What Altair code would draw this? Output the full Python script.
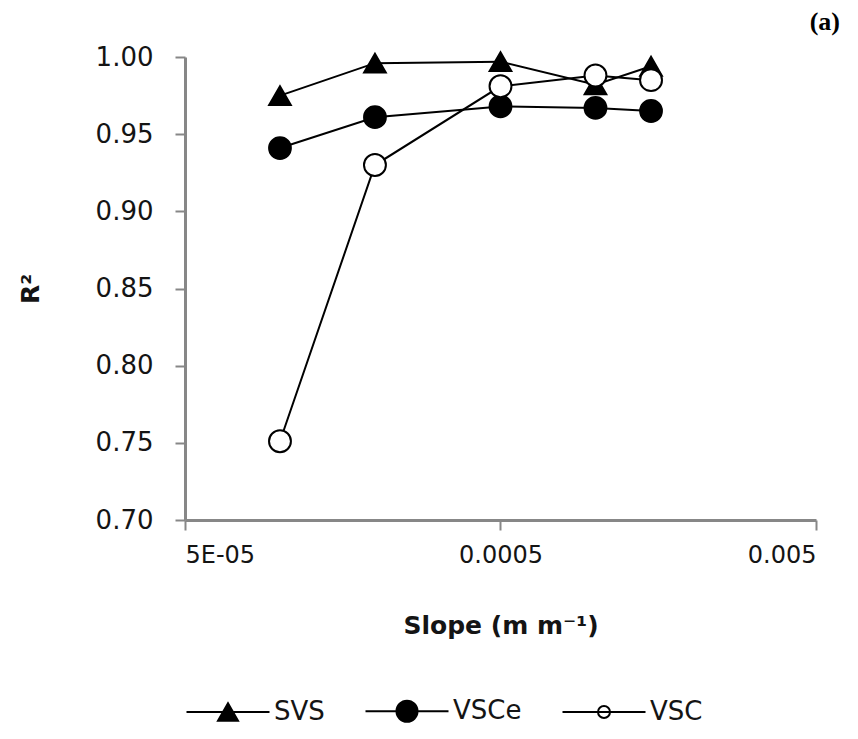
import altair as alt
import pandas as pd

# ---- data ----
slopes = [0.0001, 0.0002, 0.0005, 0.001, 0.0015]
svs = [0.975, 0.996, 0.997, 0.982, 0.994]
vsce = [0.941, 0.961, 0.968, 0.967, 0.965]
vsc = [0.751, 0.930, 0.981, 0.988, 0.985]

series_names = ["SVS", "VSCe", "VSC"]
x_ticks = [0.00005, 0.0005, 0.005]
x_tick_labels = ["5E-05", "0.0005", "0.005"]
y_ticks = [0.70, 0.75, 0.80, 0.85, 0.90, 0.95, 1.00]
panel_label = ["(a)"]

rows = []
for name, vals in zip(series_names, [svs, vsce, vsc]):
    for s, v in zip(slopes, vals):
        rows.append({"Slope": s, "R2": v, "Series": name, "Legend": name})
df = pd.DataFrame(rows)

label_expr = ""
for t, lab in zip(x_ticks[:-1], x_tick_labels[:-1]):
    label_expr += f"datum.value < {t * 1.5!r} ? '{lab}' : "
label_expr += f"'{x_tick_labels[-1]}'"

FONT = "DejaVu Sans, sans-serif"
AXIS_GRAY = "#878787"
TEXT = "#141414"
PLOT_W, PLOT_H = 631, 463

x_enc = alt.X(
    "Slope:Q",
    scale=alt.Scale(type="log", domain=[x_ticks[0], x_ticks[-1]]),
    axis=alt.Axis(
        values=x_ticks,
        labelExpr=label_expr,
        labelFontSize=24,
        title="Slope (m m⁻¹)",
        titleFontWeight="bold",
        titleFontSize=25,
        titlePadding=46,
        labelPadding=13,
        tickSize=10,
    ),
)
y_enc = alt.Y(
    "R2:Q",
    scale=alt.Scale(domain=[0.70, 1.00], zero=False),
    axis=alt.Axis(
        values=y_ticks,
        format=".2f",
        labelFontSize=26,
        title="R²",
        titleFontWeight="bold",
        titleFontSize=25,
        titlePadding=52,
        labelPadding=22,
        tickSize=10,
    ),
)

base = alt.Chart(df).encode(x=x_enc, y=y_enc)

lines = base.mark_line(color="black", strokeWidth=2).encode(detail="Series:N")

points = base.mark_point(filled=True, stroke="black", strokeWidth=2, opacity=1).encode(
    shape=alt.Shape("Series:N", scale=alt.Scale(domain=series_names,
                                                range=["triangle-up", "circle", "circle"]), legend=None),
    fill=alt.Fill("Series:N", scale=alt.Scale(domain=series_names,
                                              range=["black", "black", "white"]), legend=None),
    size=alt.Size("Series:N", scale=alt.Scale(domain=series_names, range=[470, 480, 380]), legend=None),
)

tri_path = "M-4.15,0H4.15M-1,0.87L0,-0.87L1,0.87Z"
circ_path = "M-4.15,0H4.15M-1.05,0A1.05,1.05,0,1,0,1.05,0A1.05,1.05,0,1,0,-1.05,0Z"
circ_open_path = "M-0.6,0A0.6,0.6,0,1,0,0.6,0A0.6,0.6,0,1,0,-0.6,0ZM-4.15,0H4.15"

legend_props = dict(
    title=None,
    orient="none",
    direction="horizontal",
    legendX=-1,
    legendY=641,
    symbolSize=400,
    symbolOffset=31,
    symbolStrokeColor="black",
    symbolStrokeWidth=2,
    symbolOpacity=1,
    labelOffset=33,
    labelFontSize=26,
    labelFont=FONT,
    labelColor=TEXT,
    columnPadding=36,
)

# legend-only layer: no rows reach the marks, the legend comes from the scale domains
legend_layer = (
    base.transform_filter("false")
    .mark_point(filled=True, strokeWidth=2, opacity=1, size=400)
    .encode(
        shape=alt.Shape("Legend:N", scale=alt.Scale(domain=series_names,
                                                    range=[tri_path, circ_path, circ_open_path]),
                        legend=alt.Legend(**legend_props)),
        fill=alt.Fill("Legend:N", scale=alt.Scale(domain=series_names,
                                                  range=["black", "black", "white"]),
                      legend=alt.Legend(**legend_props)),
        stroke=alt.Stroke("Legend:N", scale=alt.Scale(domain=series_names,
                                                      range=["black", "black", "black"]),
                          legend=alt.Legend(**legend_props)),
    )
)

# panel tag "(a)" above the top-right corner of the plot
tag = (
    alt.Chart(pd.DataFrame({"tag": panel_label}))
    .mark_text(font="Liberation Serif", fontSize=26, fontWeight="bold", color="black",
               align="right", baseline="middle")
    .encode(text="tag:N", x=alt.value(PLOT_W + 24), y=alt.value(-35))
)

chart = (
    alt.layer(lines, points, legend_layer, tag)
    .resolve_scale(shape="independent", fill="independent", stroke="independent")
    .properties(
        width=PLOT_W,
        height=PLOT_H,
        padding={"left": 177, "top": 49, "right": 34, "bottom": 209},
        autosize=alt.AutoSizeParams(type="none"),
    )
    .configure_view(strokeWidth=0)
    .configure_axis(
        grid=False,
        domainColor=AXIS_GRAY,
        domainWidth=3,
        tickColor=AXIS_GRAY,
        tickWidth=2,
        labelFont=FONT,
        labelColor=TEXT,
        titleFont=FONT,
        titleColor=TEXT,
    )
)

chart.save("out.html", embed_options={"renderer": "svg", "actions": False})
